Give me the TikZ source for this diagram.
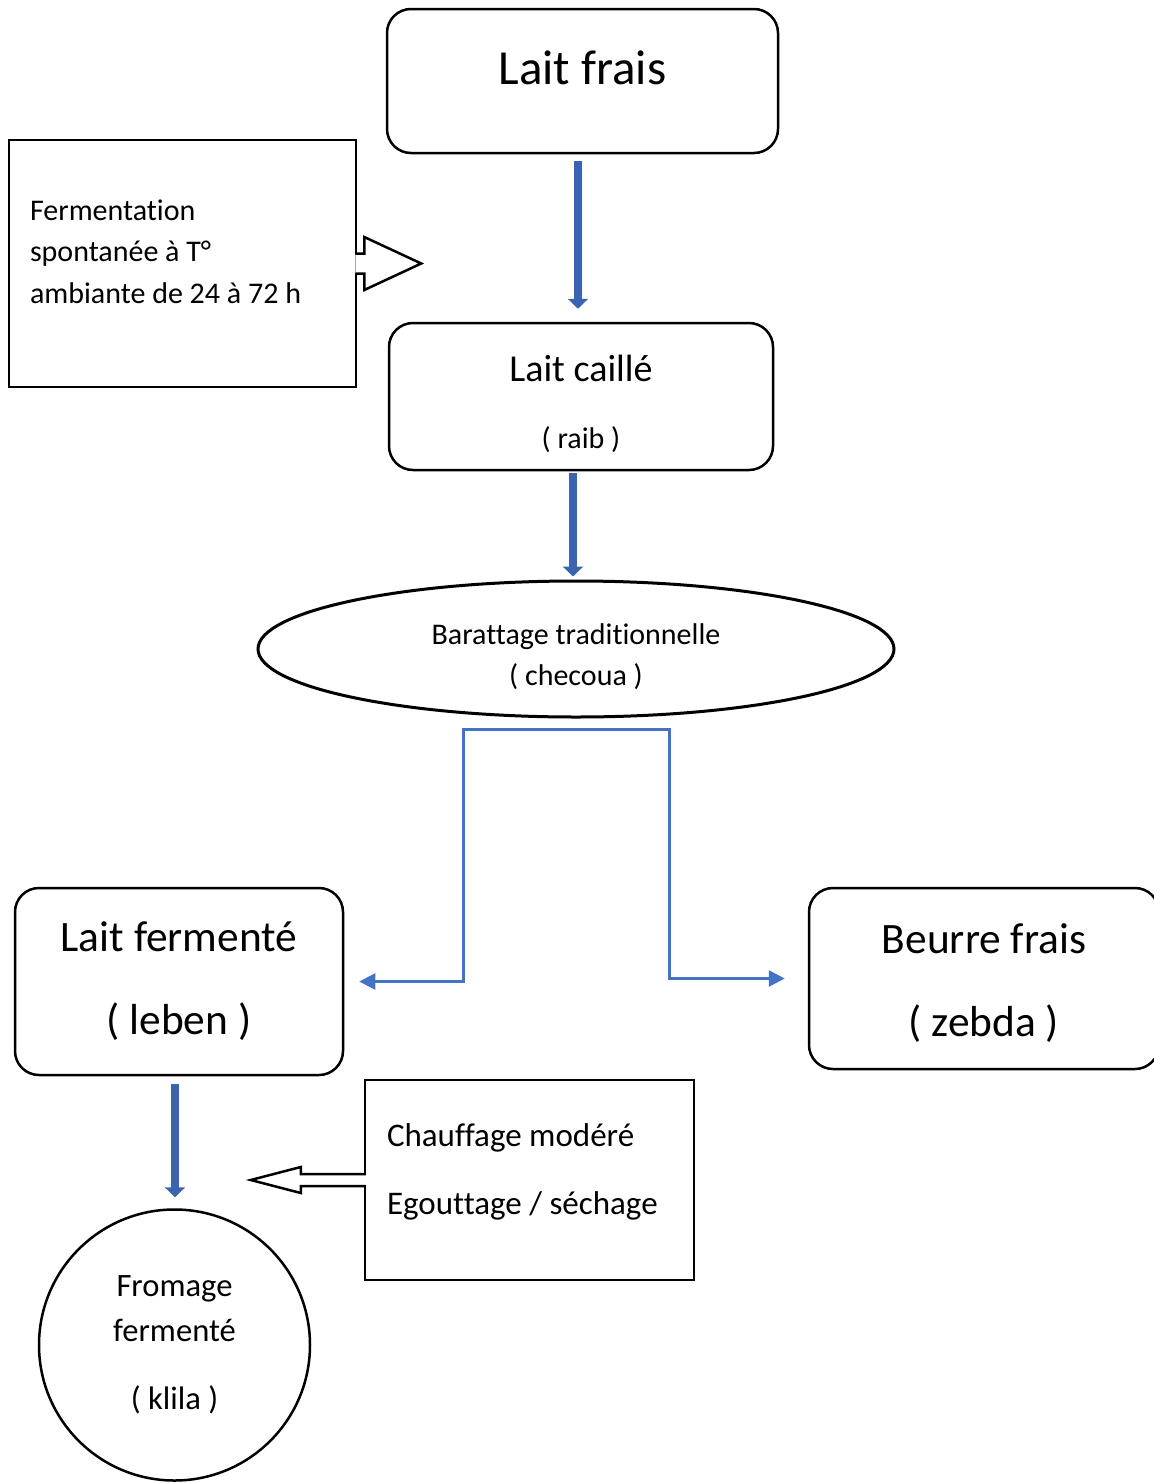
\documentclass[tikz,border=0pt]{standalone}
\usepackage{fontspec}
\setmainfont{Carlito}[Ligatures=NoCommon]
\usepackage{xcolor}
\usepackage{tikz}
\usetikzlibrary{arrows.meta,shapes,calc,positioning}

\definecolor{flowblue}{HTML}{4472C4}
\definecolor{flowdark}{HTML}{3B64B0}

\begin{document}
\begin{tikzpicture} [x=0.5pt, y=-0.5pt,
		rbox/.style={draw, line width=1.25pt, rounded corners=12pt, inner sep=0pt, align=center},
		sbox/.style={draw, line width=1.25pt, inner sep=0pt},
		flow/.style={draw=flowdark, line width=4pt, -{Triangle[width=10pt,length=5pt]}},
		link/.style={draw=flowblue, line width=1.3pt, line join=miter, -{Triangle[width=8pt,length=8pt]}},
		hollow/.style={draw, line width=1.25pt, fill=white, line join=miter}]
		
		\useasboundingbox (0,0) rectangle (1154,1483);
		
		\node (L_F) [rbox, minimum width=195.5pt, minimum height=72pt, font=\fontsize{24.5}{29}\selectfont] at (582.5,81) {Lait frais\rule[-13pt]{0pt}{13pt}};
		
		\node (F_S) [sbox, minimum width=173.5pt, minimum height=123.5pt, text width=152.5pt, inner xsep=10.5pt, align=flush left, font=\fontsize{15}{20.75}\selectfont] at (182.5,263.5) {Fermentation\\ spontanée à T°\\ ambiante de 24 à 72 h\rule[-12pt]{0pt}{12pt}};
		
		\node (L_C) [rbox, minimum width=192pt, minimum height=73.5pt, font=\fontsize{19}{33.5}\selectfont] at (581,396.5) {\rule{0pt}{20.5pt}Lait caillé\\ {\fontsize{15}{18}\selectfont ( raib )}};
		
		\node (B_T) [draw, ellipse, line width=1.5pt, minimum width=318pt, minimum height=68pt, inner sep=0pt, align=center, font=\fontsize{15}{20.5}\selectfont] at (576,649) {\rule{0pt}{18pt}Barattage traditionnelle\\ ( checoua )};
		
		\node (L_FE) [rbox, minimum width=164pt, minimum height=93.5pt, font=\fontsize{21.7}{41.5}\selectfont] at (179,981.5) {Lait fermenté\\ ( leben )};
		
		\node (B_F) [rbox, minimum width=175pt, minimum height=90.5pt, font=\fontsize{21.7}{41.5}\selectfont] at (984,978.5) {\rule{0pt}{19.5pt}Beurre frais\\ ( zebda )};
		
		\node (F_K) [draw, circle, line width=1.25pt, minimum size=135.5pt, inner sep=0pt, align=center, font=\fontsize{16.3}{22.5}\selectfont] at (174.5,1345) {Fromage\\ fermenté\\[11.5pt] ( klila )};
		
		\node (C_E) [sbox, minimum width=164.5pt, minimum height=100pt, text width=142.5pt, inner xsep=11pt, align=flush left, font=\fontsize{16.5}{34}\selectfont] at (529.5,1180) {Chauffage modéré\\ Egouttage / séchage\rule[-11pt]{0pt}{11pt}};
		
		
		\draw [flow] ($(L_F.south)+(-4.5,7)$) to ($(L_C.north)+(-3,-13)$);
		
		\draw [flow] ($(L_C.south)+(-8,2)$) to ($(B_T.north)+(-3,-3)$);
		
		\draw [flow] ($(L_FE.south)+(-4,8)$) to ($(F_K.north)+(0.5,-11)$);
		
		% partage du barattage
		\coordinate (split) at ($(B_T.south)+(-12,11)$);
		
		\draw [link] (split) -| ($(L_FE.east)+(119,0)$) -- ($(L_FE.east)+(15,0)$);
		
		\draw [link] (split) -| ($(B_F.west)+(-138,0)$) -- ($(B_F.west)+(-23,0)$);
		
		
		\draw [hollow] ($(F_S.east)+(-2,-10)$) -- ++(9,0) -- ++(0,-16.5) -- ($(F_S.east)+(64,0)$) -- ($(F_S.east)+(7,26.5)$) -- ++(0,-16.5) -- ++(-9,0);
		
		\draw [hollow] ($(C_E.west)+(2,-6)$) -- ++(-65,0) -- ++(0,-7) -- ($(C_E.west)+(-113,0)$) -- ($(C_E.west)+(-63,13)$) -- ++(0,-7) -- ++(65,0);
		
		
	\end{tikzpicture}
\end{document}
